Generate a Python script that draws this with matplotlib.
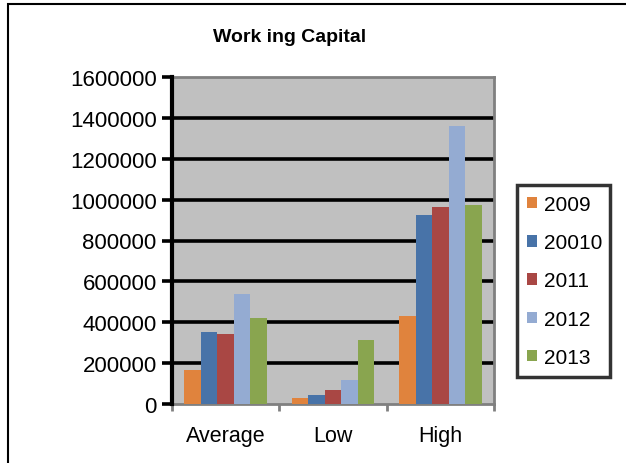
import matplotlib.pyplot as plt
import numpy as np
from matplotlib.patches import Patch, Rectangle

plt.rcParams['font.family'] = ['Liberation Sans', 'DejaVu Sans']

# working capital per group and year
categories = ['Average', 'Low', 'High']
series_names = ['2009', '20010', '2011', '2012', '2013']
values = {
    '2009':  [167000, 28000, 431000],
    '20010': [353000, 46000, 926000],
    '2011':  [341000, 67000, 965000],
    '2012':  [539000, 118000, 1358000],
    '2013':  [421000, 314000, 975000],
}
colors = ['#E0833D', '#4873A8', '#A94744', '#94ABD2', '#89A54F']
yticks = np.arange(0, 1600001, 200000)

W, H = 626, 464
fig = plt.figure(figsize=(W / 100, H / 100), dpi=100)

# outer chart border
fig.patches.append(Rectangle((8 / W, -0.1), 1.2, (H - 5) / H + 0.1,
                             transform=fig.transFigure, fill=False,
                             edgecolor='black', linewidth=1.5))

ax = fig.add_axes([172 / W, (H - 405) / H, (494 - 172) / W, (405 - 78) / H])
ax.set_facecolor('#C0C0C0')

n = len(series_names)
bw = 1 / (n + 1.5)
x = np.arange(len(categories))
for i, name in enumerate(series_names):
    ax.bar(x + (i - (n - 1) / 2) * bw, values[name], bw, color=colors[i],
           zorder=3, linewidth=0)

ax.set_xlim(-0.5, 2.5)
ax.set_ylim(0, 1600000)

for y in yticks[1:-1]:
    ax.axhline(y, color='black', linewidth=2.6, zorder=2)

ax.set_yticks(yticks)
ax.set_yticklabels([str(v) for v in yticks], fontsize=16)
ax.tick_params(axis='y', length=7, width=2.6, color='black', pad=4)

ax.set_xticks([-0.5, 0.5, 1.5, 2.5])
ax.set_xticklabels([])
ax.tick_params(axis='x', which='major', length=5, width=2, color='#808080')
ax.set_xticks(x, minor=True)
ax.set_xticklabels(categories, minor=True, fontsize=15.5)
ax.tick_params(axis='x', which='minor', length=0, pad=15)

for side in ['top', 'right', 'bottom']:
    ax.spines[side].set_color('#808080')
    ax.spines[side].set_linewidth(2)
ax.spines['left'].set_color('black')
ax.spines['left'].set_linewidth(3)
ax.spines['left'].set_zorder(4)

fig.text(290 / W, (H - 37) / H, 'Work ing Capital', ha='center', va='center',
         fontsize=14, fontweight='bold')

handles = [Patch(facecolor=c, edgecolor='none') for c in colors]
leg = fig.legend(handles, series_names, loc='center',
                 bbox_to_anchor=(517 / W, (H - 377) / H, (610 - 517) / W, (377 - 187) / H),
                 fontsize=15, frameon=True, fancybox=False, borderpad=0.5,
                 labelspacing=0.92, handlelength=0.45, handleheight=0.45,
                 handletextpad=0.35, mode='expand', borderaxespad=0)
leg.get_frame().set_edgecolor('black')
leg.get_frame().set_linewidth(2.5)

fig.savefig('out.png', dpi=100)
